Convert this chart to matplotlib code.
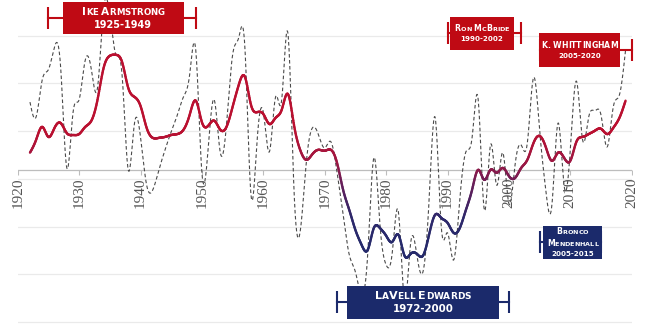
import numpy as np
import matplotlib
matplotlib.use("Agg")
import matplotlib.pyplot as plt
from matplotlib.collections import LineCollection
from matplotlib.colors import LinearSegmentedColormap, Normalize
from matplotlib.patches import Rectangle
from matplotlib.markers import TICKDOWN
from matplotlib.transforms import offset_copy
from matplotlib.offsetbox import TextArea, HPacker, VPacker, AnnotationBbox

# ---- data -----------------------------------------------------------------
years = list(range(1922, 2020))

# single-season winning percentage
season_pct = [
    66.1, 63.0, 70.8, 72.9, 77.7, 73.3, 52.3, 63.8, 66.6, 74.9,   # 1922-1931
    72.9, 69.1, 85.8, 84.4, 76.0, 71.8, 51.9, 61.5, 58.8, 48.7,   # 1932-1941
    47.7, 51.9, 56.1, 59.9, 63.4, 67.2, 71.8, 77.0, 51.3, 56.1,   # 1942-1951
    66.6, 55.5, 61.3, 76.0, 79.6, 77.6, 46.6, 58.2, 64.0, 55.7,   # 1952-1961
    67.2, 66.6, 80.6, 47.7, 38.9, 53.4, 60.7, 59.2, 56.5, 57.8,   # 1962-1971
    51.5, 42.5, 34.1, 30.5, 25.7, 34.1, 54.4, 40.4, 32.0, 34.5,   # 1972-1981
    43.1, 24.6, 36.6, 34.1, 30.5, 45.6, 62.8, 39.7, 38.7, 33.0,   # 1982-1991
    45.6, 55.7, 58.6, 66.6, 43.5, 57.1, 48.7, 55.5, 44.8, 52.9,   # 1992-2001
    57.1, 57.5, 71.2, 60.3, 47.7, 44.5, 61.7, 48.5, 56.1, 70.5,   # 2002-2011
    58.2, 63.0, 64.3, 63.4, 56.7, 65.1, 67.6, 77.0,               # 2012-2019
]

# rolling average of winning percentage
rolling_pct = [
    55.5, 58.2, 60.9, 58.8, 60.7, 61.7, 59.6, 59.2, 59.4, 60.9,   # 1922-1931
    62.2, 66.6, 73.3, 75.8, 76.0, 74.5, 69.1, 67.2, 65.3, 60.7,   # 1932-1941
    58.6, 58.6, 58.8, 59.2, 59.4, 60.3, 63.4, 66.4, 61.9, 61.1,   # 1942-1951
    62.2, 60.3, 60.9, 65.1, 69.7, 71.4, 65.5, 64.0, 63.6, 61.5,   # 1952-1961
    62.8, 64.5, 67.8, 61.3, 56.1, 54.0, 55.2, 56.1, 55.9, 56.1,   # 1962-1971
    53.4, 47.7, 43.5, 39.3, 36.2, 35.1, 39.7, 39.7, 38.1, 36.8,   # 1972-1981
    38.3, 33.9, 34.3, 34.3, 33.9, 38.3, 42.5, 41.8, 40.8, 38.7,   # 1982-1991
    39.7, 43.5, 47.7, 51.9, 49.8, 51.9, 51.3, 52.3, 50.6, 50.2,   # 1992-2001
    52.3, 54.0, 57.5, 59.0, 56.7, 53.8, 55.5, 54.4, 53.8, 57.8,   # 2002-2011
    58.8, 59.4, 60.1, 60.5, 59.4, 60.7, 62.8, 66.4,               # 2012-2019
]

overall_pct = 51.9
decade_ticks = list(range(1920, 2021, 10))

coach_lines = [["Ike Armstrong", "1925-1949"],
               ["Ron McBride", "1990-2002"],
               ["K. WHITTINGHAM", "2005-2020"],
               ["LaVell Edwards", "1972-2000"],
               ["Bronco", "Mendenhall", "2005-2015"]]
coach_start = [1925, 1990, 2005, 1972, 2005]
coach_end = [1949, 2002, 2020, 2000, 2015]
coach_school = ["utah", "utah", "utah", "byu", "byu"]

# ---- styling / layout -----------------------------------------------------
school_color = {"utah": "#BF0A14", "byu": "#1B2A6B"}
# box centre (year, pct), box size (years, pct), big / small font size
box_layout = [
    (1937.2, 83.7, 19.7, 6.7, 7.6, 6.2),
    (1995.6, 80.5, 10.4, 6.9, 5.6, 4.6),
    (2011.5, 77.0, 13.2, 7.1, 5.6, 5.6),
    (1986.0, 24.1, 24.8, 6.9, 8.0, 6.5),
    (2010.35, 36.7, 9.6, 6.9, 5.6, 4.6),
]
bracket_half = 2.3
axis_grey = "#BDBDBD"

fig = plt.figure(figsize=(6.6, 3.33), dpi=100)
ax = fig.add_axes([17.7 / 660, 0.0, 614 / 660, 1.0])
ax.set_xlim(1920, 2020)
ax.set_ylim(17.7, 87.5)


def natural_spline(x, y, per=16):
    x = np.asarray(x, float)
    y = np.asarray(y, float)
    n = len(x)
    h = np.diff(x)
    A = np.zeros((n, n))
    r = np.zeros(n)
    A[0, 0] = A[-1, -1] = 1.0
    for i in range(1, n - 1):
        A[i, i - 1] = h[i - 1]
        A[i, i] = 2 * (h[i - 1] + h[i])
        A[i, i + 1] = h[i]
        r[i] = 3 * ((y[i + 1] - y[i]) / h[i] - (y[i] - y[i - 1]) / h[i - 1])
    c = np.linalg.solve(A, r)
    b = (y[1:] - y[:-1]) / h - h * (2 * c[:-1] + c[1:]) / 3
    d = (c[1:] - c[:-1]) / (3 * h)
    xs = np.linspace(x[0], x[-1], (n - 1) * per + 1)
    idx = np.clip(np.searchsorted(x, xs, side="right") - 1, 0, n - 2)
    t = xs - x[idx]
    ys = y[idx] + b[idx] * t + c[idx] * t ** 2 + d[idx] * t ** 3
    return xs, ys


# horizontal grid, no frame
ax.set_yticks(range(20, 81, 10))
ax.yaxis.grid(True, color="#EAEAEA", lw=0.9)
ax.set_axisbelow(True)
ax.tick_params(axis="both", left=False, labelleft=False,
               bottom=False, labelbottom=False)
for side in ax.spines.values():
    side.set_visible(False)

# time axis drawn at the all-time average, with decade ticks and labels
ax.axhline(overall_pct, color=axis_grey, lw=0.9, zorder=1)
ax.plot(decade_ticks, [overall_pct] * len(decade_ticks), ls="none",
        marker=TICKDOWN, ms=3.5, mew=0.8, mec=axis_grey, zorder=1)
label_trans = offset_copy(ax.transData, fig=fig, x=0, y=-5.5, units="points")
for t in decade_ticks:
    ax.text(t, overall_pct, str(t), transform=label_trans,
            rotation="vertical", rotation_mode="default",
            ha="center", va="top", family="Liberation Serif",
            fontsize=11, color="#555555", clip_on=False)

# single-season line
sx, sy = natural_spline(years, season_pct)
ax.plot(sx, sy, color="#4A4A4A", lw=0.8, ls=(0, (3.2, 2.2)), zorder=2)

# rolling average, coloured by level
rx, ry = natural_spline(years, rolling_pct)
pts = np.column_stack([rx, ry]).reshape(-1, 1, 2)
segs = np.concatenate([pts[:-1], pts[1:]], axis=1)
cmap = LinearSegmentedColormap.from_list(
    "level", [(0.0, "#262A6B"), (0.25, "#2E286B"), (0.55, "#6A1E58"),
              (0.72, "#9C1844"), (1.0, "#BA1030")])
lc = LineCollection(segs, cmap=cmap, norm=Normalize(36, 60),
                    linewidth=1.7, capstyle="round", joinstyle="round", zorder=3)
lc.set_array(0.5 * (ry[:-1] + ry[1:]))
ax.add_collection(lc)


def name_row(text, big, small):
    """Small-caps rendering of one line of a label."""
    parts = []
    for wi, word in enumerate(text.split(" ")):
        if wi:
            parts.append(TextArea(" ", textprops=dict(color="white", fontsize=small,
                                                       fontweight="bold")))
        for ch in word:
            size = big if (ch.isupper() or ch.isdigit() or not ch.isalpha()) else small
            parts.append(TextArea(ch.upper(), textprops=dict(
                color="white", fontsize=size, fontweight="bold",
                fontfamily="DejaVu Sans")))
    return HPacker(children=parts, align="baseline", pad=0, sep=0)


for lines, start, end, school, lay in zip(coach_lines, coach_start, coach_end,
                                          coach_school, box_layout):
    col = school_color[school]
    cx, cy, w, h, big, small = lay
    ax.plot([start, end], [cy, cy], color=col, lw=1.5, zorder=5, clip_on=False)
    ax.vlines([start, end], cy - bracket_half, cy + bracket_half, color=col,
              lw=1.5, zorder=5, clip_on=False)
    ax.add_patch(Rectangle((cx - w / 2, cy - h / 2), w, h, facecolor=col,
                           edgecolor="none", zorder=6, clip_on=False))
    rows = [name_row(t, big, small) for t in lines[:-1]]
    rows.append(TextArea(lines[-1], textprops=dict(color="white", fontsize=big * 0.92,
                                                   fontweight="bold",
                                                   fontfamily="DejaVu Sans")))
    pack = VPacker(children=rows, align="center", pad=0, sep=2.2)
    ab = AnnotationBbox(pack, (cx, cy), frameon=False, box_alignment=(0.5, 0.5),
                        zorder=7, annotation_clip=False)
    ax.add_artist(ab)

fig.savefig("out.png", dpi=100)
